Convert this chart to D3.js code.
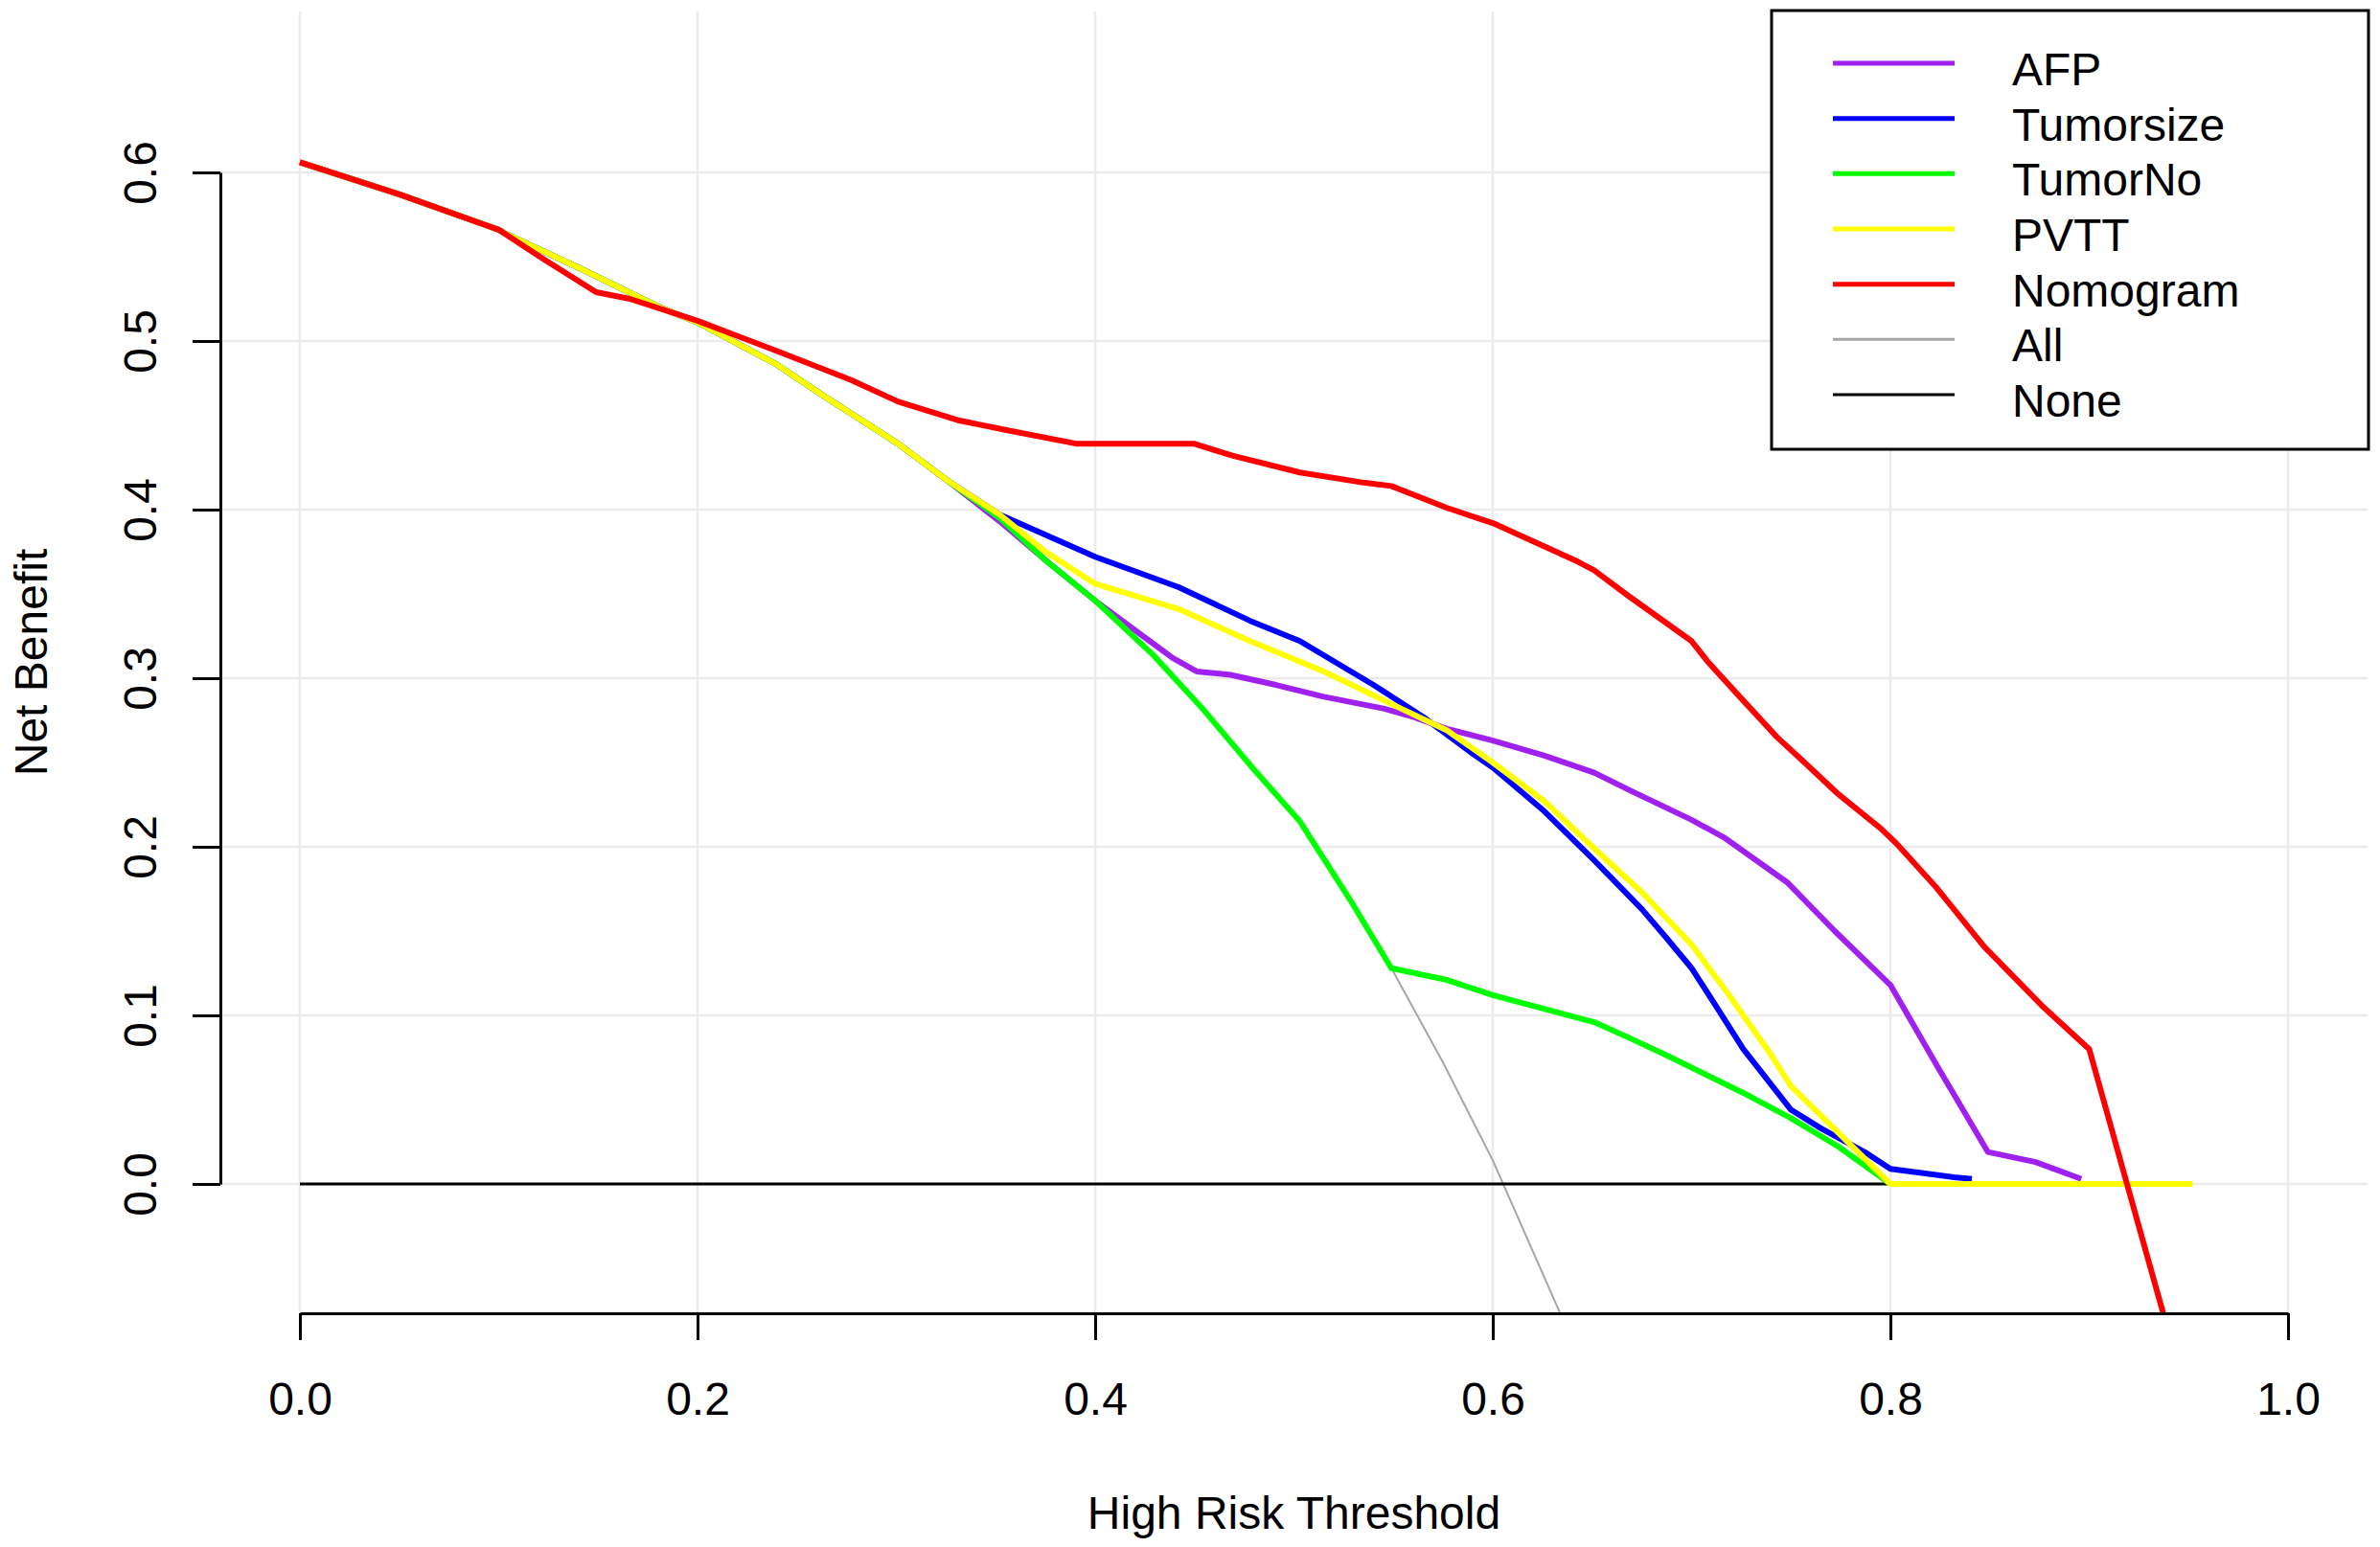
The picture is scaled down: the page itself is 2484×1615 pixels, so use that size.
<!DOCTYPE html>
<html>
<head>
<meta charset="utf-8">
<script src="https://cdn.jsdelivr.net/npm/d3@7"></script>
<style>
  body { margin: 0; background: #fff; }
  svg { display: block; }
  text { font-family: "Liberation Sans", Arial, sans-serif; fill: #000; }
</style>
</head>
<body>
<svg id="chart" width="2484" height="1615"></svg>
<script>
// net benefit curves, [threshold, net benefit]
// (where a curve is hidden under another one it takes that curve's values)
const afp = [[0,0.606],[0.05,0.587],[0.1,0.566],[0.103,0.564],[0.141,0.543],[0.181,0.52],[0.2,0.511],[0.24,0.486],[0.264,0.467],[0.301,0.439],[0.326,0.417],[0.352,0.393],[0.375,0.37],[0.4,0.346],[0.424,0.325],[0.439,0.312],[0.451,0.304],[0.468,0.302],[0.491,0.296],[0.515,0.289],[0.545,0.282],[0.56,0.277],[0.577,0.27],[0.6,0.263],[0.626,0.254],[0.651,0.244],[0.668,0.234],[0.7,0.216],[0.717,0.205],[0.748,0.179],[0.772,0.15],[0.8,0.118],[0.823,0.071],[0.849,0.019],[0.873,0.013],[0.896,0.003]];
const tumorsize = [[0,0.606],[0.05,0.587],[0.1,0.566],[0.103,0.564],[0.141,0.543],[0.181,0.52],[0.2,0.511],[0.24,0.486],[0.264,0.467],[0.301,0.439],[0.326,0.417],[0.352,0.397],[0.4,0.372],[0.442,0.354],[0.478,0.334],[0.503,0.322],[0.54,0.296],[0.565,0.277],[0.589,0.256],[0.6,0.247],[0.626,0.221],[0.651,0.192],[0.675,0.163],[0.688,0.145],[0.7,0.128],[0.712,0.106],[0.726,0.08],[0.75,0.044],[0.765,0.033],[0.787,0.019],[0.8,0.009],[0.813,0.007],[0.832,0.004],[0.841,0.003]];
const tumorNo = [[0,0.606],[0.05,0.587],[0.1,0.566],[0.103,0.564],[0.141,0.543],[0.181,0.52],[0.2,0.511],[0.24,0.486],[0.264,0.467],[0.301,0.439],[0.326,0.417],[0.352,0.395],[0.375,0.37],[0.4,0.346],[0.429,0.314],[0.454,0.282],[0.479,0.247],[0.503,0.215],[0.528,0.169],[0.549,0.128],[0.577,0.121],[0.6,0.112],[0.651,0.096],[0.668,0.087],[0.688,0.076],[0.726,0.054],[0.75,0.039],[0.774,0.022],[0.8,0]];
const pvtt = [[0,0.606],[0.05,0.587],[0.1,0.566],[0.103,0.564],[0.141,0.543],[0.181,0.52],[0.2,0.511],[0.24,0.486],[0.264,0.467],[0.301,0.439],[0.326,0.417],[0.352,0.397],[0.375,0.375],[0.4,0.356],[0.442,0.341],[0.478,0.322],[0.515,0.304],[0.552,0.283],[0.577,0.269],[0.6,0.25],[0.626,0.227],[0.651,0.199],[0.675,0.173],[0.7,0.142],[0.717,0.115],[0.738,0.08],[0.75,0.058],[0.8,0],[0.952,0]];
const nomogram = [[0,0.606],[0.05,0.587],[0.1,0.566],[0.122,0.549],[0.149,0.529],[0.166,0.525],[0.2,0.512],[0.24,0.494],[0.277,0.477],[0.301,0.464],[0.331,0.453],[0.356,0.447],[0.391,0.439],[0.45,0.439],[0.469,0.432],[0.503,0.422],[0.535,0.416],[0.549,0.414],[0.577,0.401],[0.6,0.392],[0.643,0.369],[0.651,0.364],[0.668,0.349],[0.7,0.322],[0.708,0.31],[0.725,0.288],[0.743,0.265],[0.755,0.252],[0.774,0.231],[0.795,0.211],[0.803,0.202],[0.823,0.176],[0.847,0.141],[0.876,0.106],[0.9,0.08],[0.919,0],[0.938,-0.08],[0.95,-0.13]];
const treatAll = [[0,0.606],[0.05,0.587],[0.1,0.566],[0.103,0.564],[0.141,0.543],[0.181,0.52],[0.2,0.511],[0.24,0.486],[0.264,0.467],[0.301,0.439],[0.326,0.417],[0.352,0.395],[0.375,0.37],[0.4,0.346],[0.429,0.314],[0.454,0.282],[0.479,0.247],[0.503,0.215],[0.528,0.169],[0.549,0.128],[0.575,0.072],[0.6,0.014],[0.634,-0.077],[0.65,-0.125]];
const treatNone = [[0,0],[0.95,0]];

const seriesNames = ["AFP", "Tumorsize", "TumorNo", "PVTT", "Nomogram", "All", "None"];
const seriesColors = ["#a020f0", "#0000ff", "#00ff00", "#ffff00", "#ff0000", "#a6a6a6", "#000000"];
const seriesData = [afp, tumorsize, tumorNo, pvtt, nomogram, treatAll, treatNone];

const xTicks = [0, 0.2, 0.4, 0.6, 0.8, 1.0];
const yTicks = [0, 0.1, 0.2, 0.3, 0.4, 0.5, 0.6];

const svg = d3.select("#chart");

const x = d3.scaleLinear().domain([0, 1]).range([313, 2388]);
const y = d3.scaleLinear().domain([0, 0.6]).range([1236, 180]);

// plot region (R pads the data range by 4%)
const plotLeft = x(-0.04), plotRight = x(1.04);
const plotTop = 12, plotBottom = 1371;

svg.append("defs").append("clipPath")
    .attr("id", "plot-clip")
  .append("rect")
    .attr("x", plotLeft)
    .attr("y", plotTop)
    .attr("width", plotRight - plotLeft)
    .attr("height", plotBottom - plotTop);

// grid
svg.append("g")
  .selectAll("line")
  .data(xTicks)
  .join("line")
    .attr("x1", d => x(d)).attr("x2", d => x(d))
    .attr("y1", plotTop).attr("y2", plotBottom)
    .attr("stroke", "#ebebeb")
    .attr("stroke-width", 2.5);

svg.append("g")
  .selectAll("line")
  .data(yTicks)
  .join("line")
    .attr("x1", plotLeft).attr("x2", plotRight)
    .attr("y1", d => y(d)).attr("y2", d => y(d))
    .attr("stroke", "#ebebeb")
    .attr("stroke-width", 2.5);

// curves, drawn in R's order: reference lines first, then models
const line = d3.line()
  .x(d => x(d[0]))
  .y(d => y(d[1]));

const drawOrder = [5, 6, 0, 1, 2, 3, 4];
const widths = [6, 6, 6, 6, 6, 2, 3];

svg.append("g")
    .attr("clip-path", "url(#plot-clip)")
  .selectAll("path")
  .data(drawOrder)
  .join("path")
    .attr("d", i => line(seriesData[i]))
    .attr("fill", "none")
    .attr("stroke", i => seriesColors[i])
    .attr("stroke-width", i => widths[i])
    .attr("stroke-linejoin", "round");

// axes
const xAxis = svg.append("g")
    .attr("transform", `translate(0,${plotBottom})`)
    .call(d3.axisBottom(x)
      .tickValues(xTicks)
      .tickSize(28)
      .tickSizeOuter(0)
      .tickFormat(d3.format(".1f")));

xAxis.selectAll("path, line")
    .attr("stroke", "#000")
    .attr("stroke-width", 3);
xAxis.selectAll("text")
    .attr("y", 106)
    .attr("dy", null)
    .style("font-size", "48px")
    .style("font-family", "'Liberation Sans', Arial, sans-serif")
    .attr("fill", "#000");

const yAxis = svg.append("g")
    .attr("transform", `translate(${plotLeft},0)`)
    .call(d3.axisLeft(y)
      .tickValues(yTicks)
      .tickSize(29)
      .tickSizeOuter(0)
      .tickFormat(d3.format(".1f")));

yAxis.selectAll("path, line")
    .attr("stroke", "#000")
    .attr("stroke-width", 3);
yAxis.selectAll("text")
    .attr("x", null)
    .attr("dy", null)
    .attr("text-anchor", "middle")
    .attr("transform", "translate(-67,0) rotate(-90)")
    .style("font-size", "48px")
    .style("font-family", "'Liberation Sans', Arial, sans-serif")
    .attr("fill", "#000");

// axis titles
svg.append("text")
    .attr("x", (plotLeft + plotRight) / 2)
    .attr("y", 1596)
    .attr("text-anchor", "middle")
    .style("font-size", "48px")
    .text("High Risk Threshold");

svg.append("text")
    .attr("transform", `translate(49,${(plotTop + plotBottom) / 2}) rotate(-90)`)
    .attr("text-anchor", "middle")
    .style("font-size", "48px")
    .text("Net Benefit");

// legend
const legend = svg.append("g");
legend.append("rect")
    .attr("x", 1849)
    .attr("y", 11)
    .attr("width", 623)
    .attr("height", 458)
    .attr("fill", "#fff")
    .attr("stroke", "#000")
    .attr("stroke-width", 3);

const legendY = d3.scalePoint()
  .domain(seriesNames)
  .range([66, 412]);

const items = legend.selectAll(".legend-item")
  .data(seriesNames)
  .join("g")
    .attr("class", "legend-item")
    .attr("transform", d => `translate(0,${legendY(d)})`);

items.append("line")
    .attr("x1", 1913)
    .attr("x2", 2040)
    .attr("stroke", (d, i) => seriesColors[i])
    .attr("stroke-width", (d, i) => i < 5 ? 5 : 3);

items.append("text")
    .attr("x", 2100)
    .attr("y", 23)
    .style("font-size", "48px")
    .text(d => d);
</script>
</body>
</html>
